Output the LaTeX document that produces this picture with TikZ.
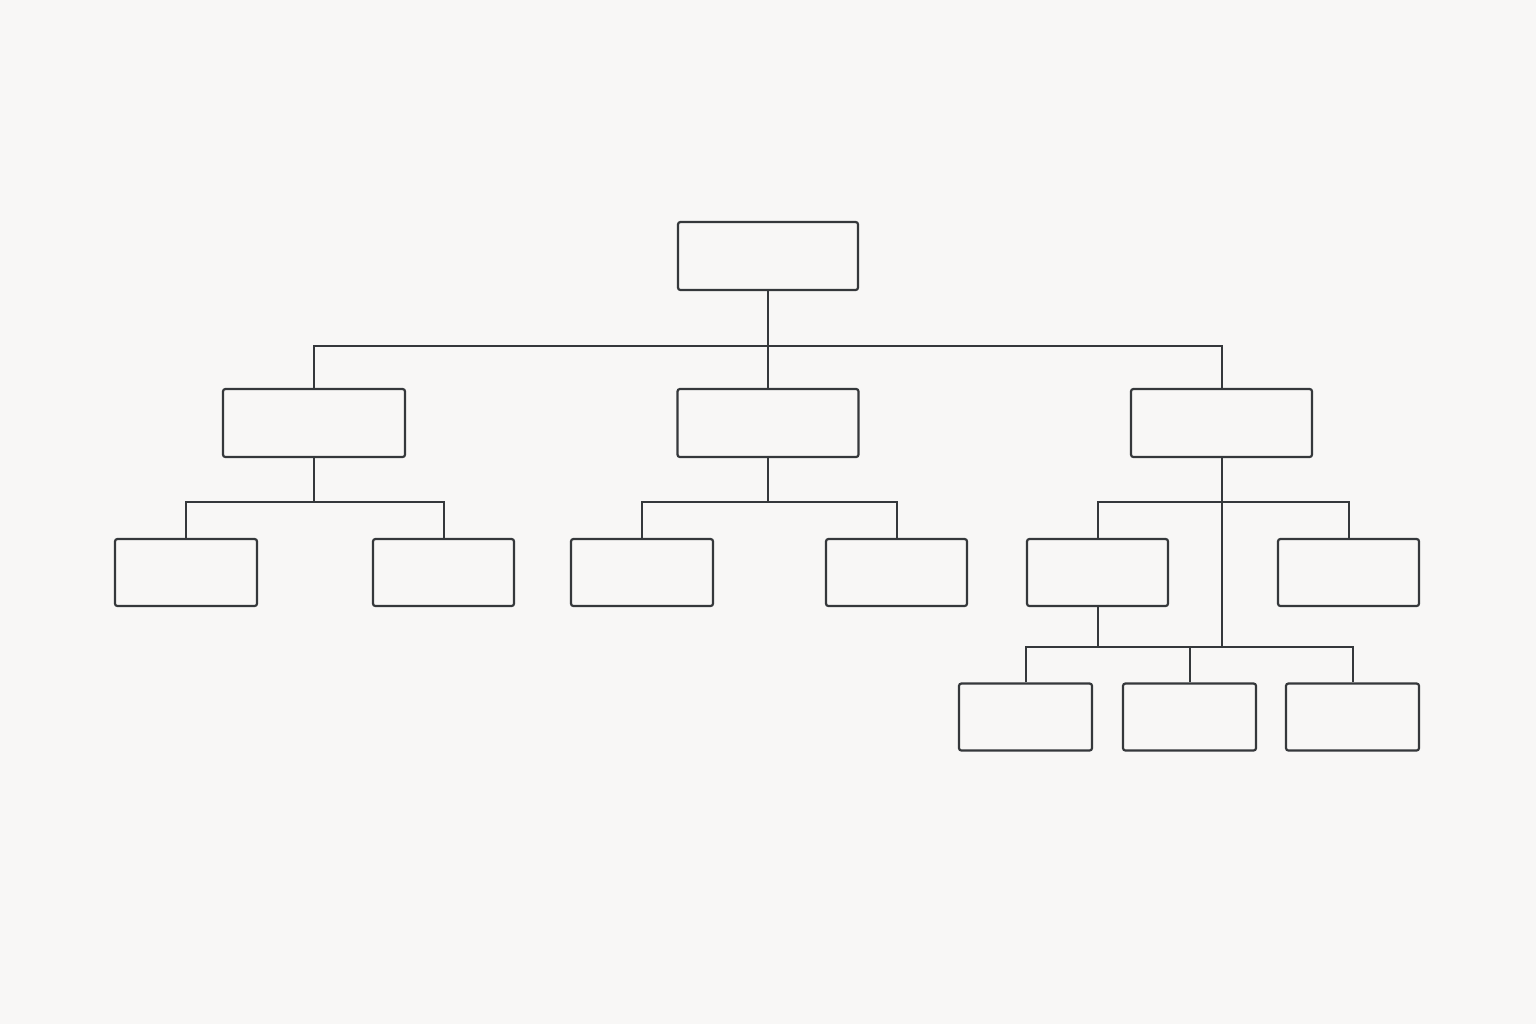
\documentclass[tikz,border=0pt]{standalone}
\begin{document}
\begin{tikzpicture}[x=0.5pt,y=-0.5pt,
  box/.style={draw=linec,line width=1.1pt,rounded corners=1.2pt,inner sep=0pt,minimum width=#1*0.5pt},
  box/.default=142,
  conn/.style={draw=linec,line width=1pt}]
\definecolor{linec}{HTML}{35383B}
\definecolor{bg}{HTML}{F8F7F6}
\fill[bg] (0,0) rectangle (1536,1024);
\useasboundingbox (0,0) rectangle (1536,1024);
\tikzset{h68/.style={minimum height=34pt}, h67/.style={minimum height=33.5pt}}
% level 0
\node[box=180,h68] (root) at (768,256) {};
% level 1
\node[box=182,h68] (A) at (314,423) {};
\node[box=181,h68] (B) at (768,423) {};
\node[box=181,h68] (C) at (1221.5,423) {};
% level 2
\node[box=142,h67] (A1) at (186,572.5) {};
\node[box=141,h67] (A2) at (443.5,572.5) {};
\node[box=142,h67] (B1) at (642,572.5) {};
\node[box=141,h67] (B2) at (896.5,572.5) {};
\node[box=141,h67] (C1) at (1097.5,572.5) {};
\node[box=141,h67] (C2) at (1348.5,572.5) {};
% level 3
\node[box=133,h67] (D1) at (1025.5,717) {};
\node[box=133,h67] (D2) at (1189.5,717) {};
\node[box=133,h67] (D3) at (1352.5,717) {};
% bus coordinates
\coordinate (b0) at (768,346);
\coordinate (bA) at (314,502);
\coordinate (bB) at (768,502);
\coordinate (bC) at (1221.5,502);
\coordinate (bD) at (1221.5,647);
\coordinate (bC1) at (1097.5,647);
% connectors
\draw[conn] (root.south) -- (b0);
\draw[conn] (A.north) |- (b0) -| (C.north);
\draw[conn] (b0) -- (B.north);
\draw[conn] (A.south) -- (bA);
\draw[conn] (A1.north) |- (bA) -| (A2.north);
\draw[conn] (B.south) -- (bB);
\draw[conn] (B1.north) |- (bB) -| (B2.north);
\draw[conn] (C.south) -- (bC) -- (bD);
\draw[conn] (C1.north) |- (bC) -| (C2.north);
\draw[conn] (C1.south) -- (bC1);
\draw[conn] (D1.north) |- (bC1) -- (bD) -| (D3.north);
\draw[conn] (D2.north) -- (D2.north |- bD);
\end{tikzpicture}
\end{document}
